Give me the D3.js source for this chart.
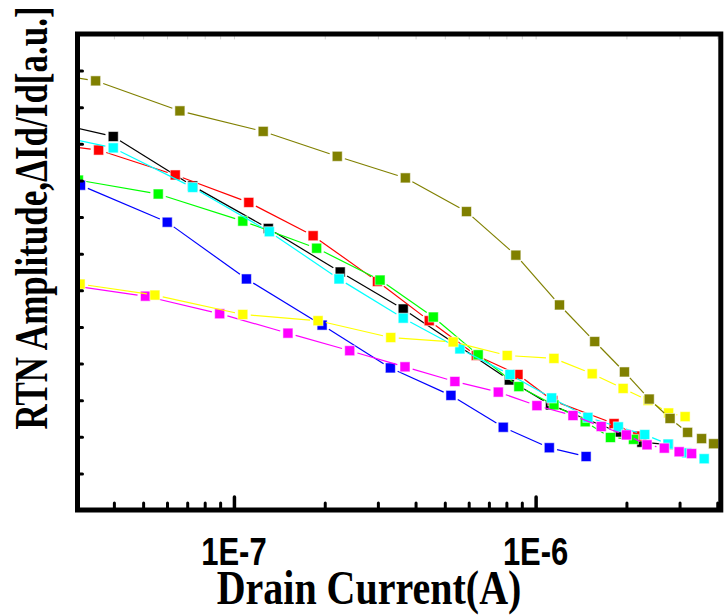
<!DOCTYPE html>
<html>
<head>
<meta charset="utf-8">
<script src="https://cdn.jsdelivr.net/npm/d3@7"></script>
<style>
  body { margin: 0; background: #fff; }
  svg { display: block; }
</style>
</head>
<body>
<div id="chart"></div>
<script>
const svgWidth = 727
const svgHeight = 615

// pixel box of the plot frame
const frame = { left: 77.5, top: 34, right: 720.8, bottom: 510 }

// axes
const xDomain = [3.03e-8, 4.11e-6]
const yDomain = [0, 13]
const xMajorTicks = [1e-7, 1e-6]
const xTickLabels = ["1E-7", "1E-6"]
const xMinorTicks = [4e-8, 5e-8, 6e-8, 7e-8, 8e-8, 9e-8,
  2e-7, 3e-7, 4e-7, 5e-7, 6e-7, 7e-7, 8e-7, 9e-7, 2e-6, 3e-6, 4e-6]
const yTicks = [1, 2, 3, 4, 5, 6, 7, 8, 9, 10, 11, 12]

// series, drawn in Origin's default colour order (later ones on top)
const seriesNames = ["black", "red", "green", "blue", "cyan", "magenta", "yellow", "olive"]
const seriesColors = ["#000000", "#ff0000", "#00ff00", "#0000ff", "#00ffff", "#ff00ff", "#ffff00", "#808000"]

const blackX = [2.27e-8, 3.98e-8, 7.30e-8, 1.30e-7, 2.25e-7, 3.64e-7, 8.18e-7, 1.12e-6, 1.88e-6, 2.25e-6, 2.75e-6]
const blackY = [10.67, 10.20, 8.85, 7.69, 6.50, 5.49, 3.55, 2.87, 2.13, 1.85, 1.79]

const redX = [2.27e-8, 3.56e-8, 6.39e-8, 1.12e-7, 1.83e-7, 2.99e-7, 4.44e-7, 6.36e-7, 8.74e-7, 1.14e-6, 1.82e-6, 2.18e-6]
const redY = [10.03, 9.83, 9.15, 8.40, 7.49, 6.24, 5.17, 4.22, 3.70, 2.99, 2.36, 2.02]

const greenX = [3.05e-8, 5.61e-8, 1.07e-7, 1.88e-7, 3.05e-7, 4.58e-7, 6.45e-7, 8.80e-7, 1.15e-6, 1.46e-6, 1.77e-6, 2.11e-6]
const greenY = [9.01, 8.63, 7.89, 7.15, 6.28, 5.27, 4.24, 3.37, 2.87, 2.41, 1.98, 1.93]

const blueX = [3.10e-8, 6.01e-8, 1.10e-7, 1.96e-7, 3.30e-7, 5.24e-7, 7.81e-7, 1.11e-6, 1.47e-6]
const blueY = [8.87, 7.86, 6.31, 5.05, 3.88, 3.13, 2.26, 1.70, 1.46]

const cyanX = [2.27e-8, 3.98e-8, 7.30e-8, 1.31e-7, 2.23e-7, 3.64e-7, 5.61e-7, 8.22e-7, 1.13e-6, 1.49e-6, 1.88e-6, 2.30e-6, 2.75e-6, 3.17e-6, 3.62e-6]
const cyanY = [10.32, 9.89, 8.81, 7.60, 6.31, 5.24, 4.40, 3.70, 3.06, 2.53, 2.27, 2.06, 1.80, 1.56, 1.40]

const magentaX = [2.27e-8, 5.09e-8, 8.97e-8, 1.51e-7, 2.42e-7, 3.69e-7, 5.40e-7, 7.52e-7, 1.01e-6, 1.33e-6, 1.65e-6, 2.00e-6, 2.34e-6, 2.67e-6, 2.99e-6, 3.29e-6]
const magentaY = [6.25, 5.84, 5.36, 4.83, 4.35, 3.91, 3.51, 3.22, 2.85, 2.58, 2.28, 2.05, 1.78, 1.69, 1.59, 1.54]

const yellowX = [3.09e-8, 5.47e-8, 1.07e-7, 1.90e-7, 3.31e-7, 5.33e-7, 8.05e-7, 1.15e-6, 1.54e-6, 1.95e-6, 2.36e-6, 2.76e-6, 3.13e-6]
const yellowY = [6.17, 5.87, 5.34, 5.17, 4.71, 4.59, 4.22, 4.14, 3.72, 3.32, 2.99, 2.65, 2.55]

const oliveX = [2.11e-8, 3.48e-8, 6.62e-8, 1.25e-7, 2.20e-7, 3.70e-7, 5.90e-7, 8.60e-7, 1.20e-6, 1.57e-6, 1.97e-6, 2.38e-6, 2.79e-6, 3.19e-6, 3.55e-6, 3.89e-6]
const oliveY = [12.00, 11.72, 10.90, 10.34, 9.66, 9.07, 8.15, 6.96, 5.60, 4.60, 3.77, 3.03, 2.50, 2.12, 1.95, 1.81]

const seriesX = [blackX, redX, greenX, blueX, cyanX, magentaX, yellowX, oliveX]
const seriesY = [blackY, redY, greenY, blueY, cyanY, magentaY, yellowY, oliveY]

const markerSize = 10
const lineGap = 8

let svg = d3
  .select("#chart")
  .append("svg")
  .attr("width", svgWidth)
  .attr("height", svgHeight)

svg.append("rect").attr("width", svgWidth).attr("height", svgHeight).attr("fill", "#fff")

let x = d3.scaleLog().domain(xDomain).range([frame.left, frame.right])
let y = d3.scaleLinear().domain(yDomain).range([frame.bottom, frame.top])

svg.append("clipPath")
  .attr("id", "plotClip")
  .append("rect")
  .attr("x", frame.left)
  .attr("y", frame.top)
  .attr("width", frame.right - frame.left)
  .attr("height", frame.bottom - frame.top)

let plot = svg.append("g").attr("clip-path", "url(#plotClip)")

// lines stop short of each symbol, like Origin's line+symbol plot
seriesNames.forEach((name, i) => {
  let pts = seriesX[i].map((v, j) => [x(v), y(seriesY[i][j])])
  let segs = d3.pairs(pts).map(([a, b]) => {
    let dx = b[0] - a[0], dy = b[1] - a[1]
    let d = Math.hypot(dx, dy)
    let ux = dx / d, uy = dy / d
    return [a[0] + ux * lineGap, a[1] + uy * lineGap, b[0] - ux * lineGap, b[1] - uy * lineGap, d]
  }).filter(s => s[4] > 2 * lineGap)

  let g = plot.append("g").attr("class", "series-" + name)
  g.selectAll("line")
    .data(segs)
    .join("line")
    .attr("x1", s => s[0])
    .attr("y1", s => s[1])
    .attr("x2", s => s[2])
    .attr("y2", s => s[3])
    .attr("stroke", seriesColors[i])
    .attr("stroke-width", 1.2)

  g.selectAll("rect")
    .data(pts)
    .join("rect")
    .attr("x", p => p[0] - markerSize / 2)
    .attr("y", p => p[1] - markerSize / 2)
    .attr("width", markerSize)
    .attr("height", markerSize)
    .attr("fill", seriesColors[i])
    .attr("stroke", "#fff")
    .attr("stroke-opacity", 0.55)
    .attr("stroke-width", 1)
})

// ticks point into the plot
function styleTicks(sel, width, color) {
  sel.select(".domain").remove()
  sel.selectAll(".tick text").remove()
  sel.selectAll(".tick line")
    .attr("stroke", color)
    .attr("stroke-width", width)
    .attr("stroke-linecap", "round")
}

svg.append("g")
  .attr("transform", `translate(0, ${frame.bottom})`)
  .call(d3.axisBottom(x).tickValues(xMinorTicks).tickSize(-7))
  .call(styleTicks, 3, "#000")

svg.append("g")
  .attr("transform", `translate(0, ${frame.bottom})`)
  .call(d3.axisBottom(x).tickValues(xMajorTicks).tickSize(-13))
  .call(styleTicks, 3.5, "#000")

svg.append("g")
  .attr("transform", `translate(0, ${frame.top})`)
  .call(d3.axisTop(x).tickValues(xMinorTicks.concat(xMajorTicks)).tickSize(-5))
  .call(styleTicks, 1, "#d0d0d0")

svg.append("g")
  .attr("transform", `translate(${frame.left}, 0)`)
  .call(d3.axisLeft(y).tickValues(yTicks).tickSize(-5))
  .call(styleTicks, 3, "#000")

// frame
svg.append("rect")
  .attr("x", frame.left)
  .attr("y", frame.top)
  .attr("width", frame.right - frame.left)
  .attr("height", frame.bottom - frame.top)
  .attr("fill", "none")
  .attr("stroke", "#000")
  .attr("stroke-width", 5)

// tick labels
svg.selectAll(".xlabel")
  .data(xMajorTicks)
  .join("text")
  .attr("class", "xlabel")
  .attr("transform", d => `translate(${x(d)}, 565) scale(1, 1.25)`)
  .attr("text-anchor", "middle")
  .style("font-family", "'Liberation Sans', Arial, sans-serif")
  .style("font-weight", "bold")
  .style("font-size", "31px")
  .text((d, i) => xTickLabels[i])

// axis titles
svg.append("text")
  .attr("transform", "translate(369, 604) scale(1, 1.2)")
  .attr("text-anchor", "middle")
  .style("font-family", "'Liberation Serif', 'Times New Roman', serif")
  .style("font-weight", "bold")
  .style("font-size", "40px")
  .text("Drain Current(A)")

svg.append("text")
  .attr("transform", "translate(47, 218) rotate(-90) scale(1, 1.3)")
  .attr("text-anchor", "middle")
  .style("font-family", "'Liberation Serif', 'Times New Roman', serif")
  .style("font-weight", "bold")
  .style("font-size", "35px")
  .text("RTN Amplitude,ΔId/Id[a.u.]")
</script>
</body>
</html>
